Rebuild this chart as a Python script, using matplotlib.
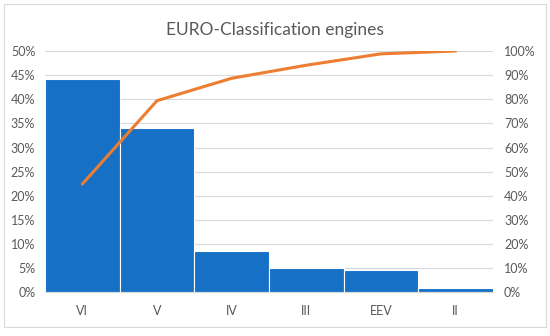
import matplotlib.pyplot as plt
from matplotlib.patches import Rectangle
from matplotlib.ticker import PercentFormatter

plt.rcParams["font.family"] = ["Lato", "DejaVu Sans"]

# 데이터
classes = ["VI", "V", "IV", "III", "EEV", "II"]
share = [44.2, 34.1, 8.65, 5.0, 4.7, 1.0]
cumulative = [44.9, 79.4, 88.7, 94.1, 98.8, 100.0]

fig = plt.figure(figsize=(5.5, 3.36), dpi=100)
ax = fig.add_axes([0.0818, 0.1295, 0.8145, 0.7188])

x = range(len(classes))
ax.bar(x, share, width=1.0, color="#1570C6", edgecolor="white", linewidth=0.8, zorder=2)
ax.set_xlim(-0.5, len(classes) - 0.5)
ax.set_ylim(0, 50)
ax.set_yticks(range(0, 51, 5))
ax.yaxis.set_major_formatter(PercentFormatter(decimals=0))
ax.set_xticks(list(x))
ax.set_xticklabels(classes)
ax.grid(axis="y", color="#D9D9D9", linewidth=0.8, zorder=0)
ax.set_axisbelow(True)
for s in ["top", "left", "right"]:
    ax.spines[s].set_visible(False)
ax.spines["bottom"].set_color("#D9D9D9")
ax.tick_params(length=0, colors="#595959", labelsize=9)
ax.tick_params(axis="x", pad=9)
ax.tick_params(axis="y", pad=7)

# 누적 비율 (오른쪽 축)
ax2 = ax.twinx()
ax2.plot(list(x), cumulative, color="#ED7D31", linewidth=2.2, solid_capstyle="round", zorder=3)
ax2.set_ylim(0, 100)
ax2.set_yticks(range(0, 101, 10))
ax2.yaxis.set_major_formatter(PercentFormatter(decimals=0))
for s in ["top", "left", "right", "bottom"]:
    ax2.spines[s].set_visible(False)
ax2.tick_params(length=0, colors="#595959", labelsize=9, pad=8)

fig.text(0.5, 0.897, "EURO-Classification engines", ha="center", va="baseline",
         fontsize=12.5, color="#595959")

# 차트 테두리
fig.patches.append(Rectangle((0.0073, 0.0268), 0.9854, 0.9612, transform=fig.transFigure,
                             fill=False, edgecolor="#D9D9D9", linewidth=0.8))

fig.savefig("out.png", dpi=100)
